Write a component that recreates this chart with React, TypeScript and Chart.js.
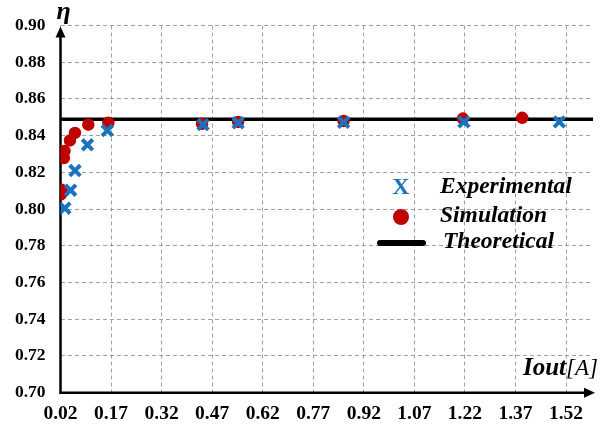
import React, { useEffect, useRef } from "react";
import { Chart, registerables } from "chart.js";
Chart.register(...registerables);

const xTickValues = [0.02, 0.17, 0.32, 0.47, 0.62, 0.77, 0.92, 1.07, 1.22, 1.37, 1.52];
const yTickValues = [0.7, 0.72, 0.74, 0.76, 0.78, 0.8, 0.82, 0.84, 0.86, 0.88, 0.9];

const expX = [0.033, 0.05, 0.063, 0.1, 0.159, 0.443, 0.547, 0.86, 1.217, 1.5];
const expY = [0.8005, 0.8103, 0.821, 0.835, 0.8428, 0.846, 0.847, 0.8473, 0.8475, 0.8475];

const simX = [0.021, 0.023, 0.03, 0.032, 0.048, 0.063, 0.1025, 0.162, 0.44, 0.547, 0.86, 1.214, 1.39];
const simY = [0.808, 0.8105, 0.8278, 0.8316, 0.8374, 0.8415, 0.846, 0.847, 0.8465, 0.8475, 0.848, 0.8493, 0.8497];

const theoX = [0.02, 1.6];
const theoY = [0.849, 0.849];

const legendLabels = ["Experimental", "Simulation", "Theoretical"];
const yAxisTitle = "η";
const xAxisTitleMain = "Iout";
const xAxisTitleUnit = "[A]";

const BLUE = "#1A73C0";
const RED = "#C00000";
const SERIF = "'Liberation Serif', 'Times New Roman', serif";

const toPts = (xs: number[], ys: number[]) => xs.map((x, i) => ({ x, y: ys[i] }));

const decorPlugin = {
  id: "decor",
  beforeDatasetsDraw(chart: any) {
    const { ctx, chartArea } = chart;
    const { left, right, top, bottom } = chartArea;
    ctx.save();
    ctx.strokeStyle = "#000";
    ctx.fillStyle = "#000";
    ctx.lineWidth = 2.5;
    // y axis
    ctx.beginPath();
    ctx.moveTo(left, bottom + 1);
    ctx.lineTo(left, top + 8);
    ctx.stroke();
    ctx.beginPath();
    ctx.moveTo(left, top + 1);
    ctx.lineTo(left - 5, top + 12);
    ctx.lineTo(left + 5, top + 12);
    ctx.closePath();
    ctx.fill();
    // x axis
    ctx.beginPath();
    ctx.moveTo(left - 1, bottom);
    ctx.lineTo(right - 8, bottom);
    ctx.stroke();
    ctx.beginPath();
    ctx.moveTo(right + 2, bottom);
    ctx.lineTo(right - 9, bottom - 5);
    ctx.lineTo(right - 9, bottom + 5);
    ctx.closePath();
    ctx.fill();
    ctx.restore();
  },
  afterDraw(chart: any) {
    const { ctx, chartArea } = chart;
    const { left, right } = chartArea;
    ctx.save();
    ctx.fillStyle = "#000";
    ctx.textBaseline = "middle";
    // eta
    ctx.font = `italic bold 26px ${SERIF}`;
    ctx.textAlign = "left";
    ctx.fillText(yAxisTitle, left - 4, 12);
    // Iout[A]
    ctx.font = `italic bold 25px ${SERIF}`;
    const w1 = ctx.measureText(xAxisTitleMain).width;
    ctx.font = `italic 23px ${SERIF}`;
    const w2 = ctx.measureText(xAxisTitleUnit).width;
    const xEnd = right + 5;
    ctx.font = `italic bold 25px ${SERIF}`;
    ctx.fillText(xAxisTitleMain, xEnd - w1 - w2, 369);
    ctx.font = `italic 23px ${SERIF}`;
    ctx.fillText(xAxisTitleUnit, xEnd - w2, 369);
    // legend
    const lx = 440;
    const rows = [187, 216, 242];
    ctx.font = `italic bold 23.5px ${SERIF}`;
    legendLabels.forEach((t, i) => ctx.fillText(t, lx + (i === 2 ? 3 : 0), rows[i]));
    ctx.fillStyle = BLUE;
    ctx.font = `bold 24px ${SERIF}`;
    ctx.textAlign = "center";
    ctx.fillText("X", 401, rows[0] + 1);
    ctx.fillStyle = RED;
    ctx.beginPath();
    ctx.arc(401, rows[1] + 1, 8, 0, Math.PI * 2);
    ctx.fill();
    ctx.strokeStyle = "#000";
    ctx.lineWidth = 6;
    ctx.lineCap = "round";
    ctx.beginPath();
    ctx.moveTo(380, 243);
    ctx.lineTo(423, 243);
    ctx.stroke();
    ctx.restore();
  },
};

export default function App() {
  const ref = useRef<HTMLCanvasElement | null>(null);
  useEffect(() => {
    if (!ref.current) return;
    const chart = new Chart(ref.current, {
      type: "scatter",
      data: {
        datasets: [
          {
            label: legendLabels[0],
            data: toPts(expX, expY),
            pointStyle: "crossRot",
            pointRadius: 7.5,
            borderColor: BLUE,
            backgroundColor: BLUE,
            borderWidth: 4,
            pointBorderWidth: 4,
          },
          {
            label: legendLabels[1],
            data: toPts(simX, simY),
            pointStyle: "circle",
            pointRadius: 5.5,
            borderColor: RED,
            backgroundColor: RED,
            borderWidth: 1.5,
          },
          {
            label: legendLabels[2],
            data: toPts(theoX, theoY),
            showLine: true,
            pointRadius: 0,
            borderColor: "#000",
            borderWidth: 3.5,
          } as any,
        ],
      },
      options: {
        animation: false,
        responsive: false,
        layout: { padding: { left: 0, right: 13, top: 24, bottom: 0 } },
        plugins: { legend: { display: false }, tooltip: { enabled: false } },
        scales: {
          x: {
            type: "linear",
            min: 0.02,
            max: 1.6,
            afterBuildTicks: (s: any) => {
              s.ticks = xTickValues.map((v) => ({ value: v }));
            },
            afterFit: (s: any) => {
              s.height = 37.3;
            },
            ticks: {
              callback: (v: any) => Number(v).toFixed(2),
              font: { family: SERIF, weight: "bold", size: 19.5 },
              color: "#000",
              padding: 10,
              maxRotation: 0,
              autoSkip: false,
            },
            grid: { color: "#a0a0a0", lineWidth: 1, drawTicks: false },
            border: { display: false, dash: [4, 3] },
          },
          y: {
            type: "linear",
            min: 0.7,
            max: 0.9,
            afterBuildTicks: (s: any) => {
              s.ticks = yTickValues.map((v) => ({ value: v }));
            },
            afterFit: (s: any) => {
              s.width = 60.5;
            },
            ticks: {
              callback: (v: any) => Number(v).toFixed(2),
              font: { family: SERIF, weight: "bold", size: 17.5 },
              color: "#000",
              padding: 15,
              autoSkip: false,
            },
            grid: { color: "#a0a0a0", lineWidth: 1, drawTicks: false },
            border: { display: false, dash: [4, 3] },
          },
        },
      } as any,
      plugins: [decorPlugin],
    });
    return () => chart.destroy();
  }, []);
  return (
    <div style={{ position: "fixed", left: 0, top: 0, width: 606, height: 430, background: "#fff" }}>
      <canvas ref={ref} width={606} height={430} style={{ width: 606, height: 430 }} />
    </div>
  );
}
